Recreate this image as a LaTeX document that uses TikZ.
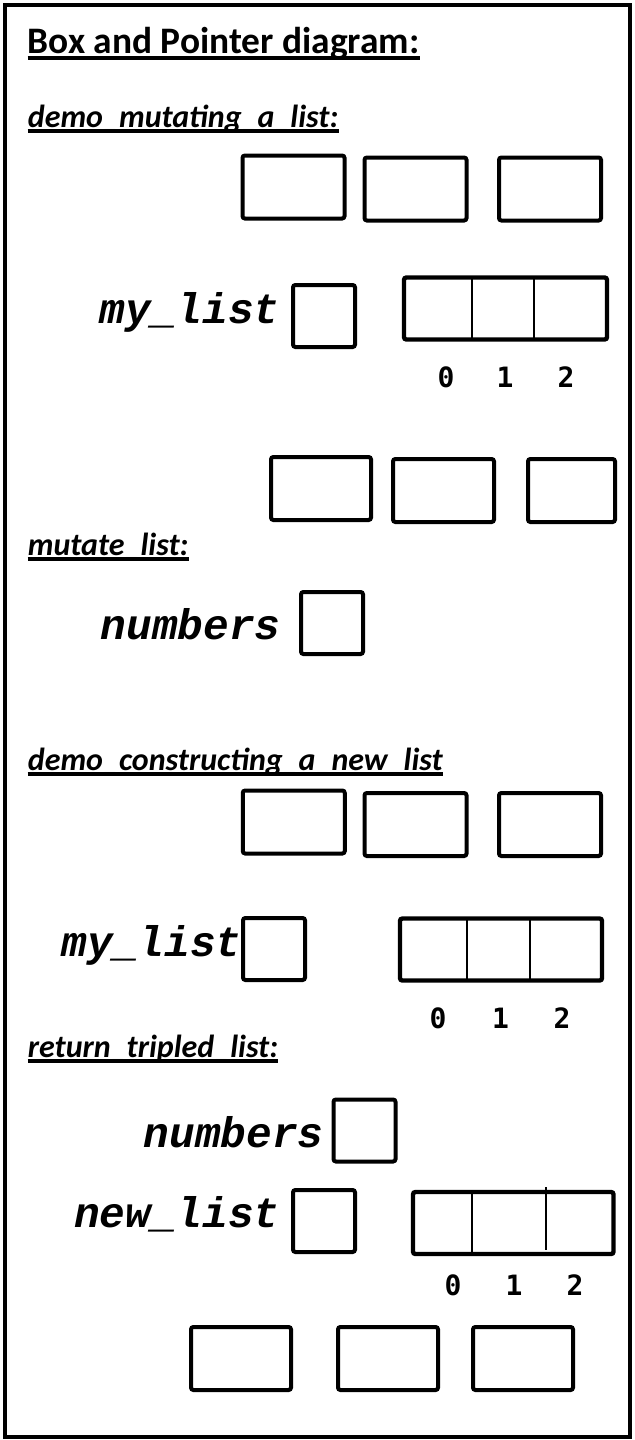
\documentclass[tikz,border=0pt]{standalone}
\usepackage{fontspec}
\setmainfont{Carlito}
\newfontfamily\varfam{Liberation Mono}
\newfontfamily\idxfam{DejaVu Sans Mono}
\usetikzlibrary{calc}
\newcommand{\titlefont}{\bfseries\fontsize{18.7pt}{20pt}\selectfont}
\newcommand{\secfont}{\bfseries\itshape\fontsize{16pt}{18pt}\selectfont}
\newcommand{\varfont}{\varfam\bfseries\itshape\fontsize{21.4pt}{23pt}\selectfont}
\newcommand{\idxfont}{\idxfam\bfseries\fontsize{14pt}{15pt}\selectfont}

\begin{document}
\begin{tikzpicture}[x=0.5pt,y=-0.5pt,
  elembox/.style={draw,line width=2pt,rounded corners=1.2pt,inner sep=0pt,minimum width=51pt,minimum height=31.5pt},
  ptrbox/.style={draw,line width=2pt,rounded corners=1.2pt,inner sep=0pt,minimum size=31pt},
  listbox/.style={draw,line width=2.2pt,rounded corners=1.2pt,inner sep=0pt,minimum width=101pt,minimum height=31pt},
  divider/.style={line width=1pt},
  section/.style={anchor=base west,inner sep=0pt,font=\secfont},
  varname/.style={anchor=base east,inner sep=0pt,font=\varfont},
  idx/.style={anchor=base,inner sep=0pt,font=\idxfont},
  uline/.style={line width=2pt}]
\useasboundingbox (0,0) rectangle (634,1440);
\draw[line width=2.2pt] (5,5) rectangle (630,1437);
% heading
\node[section,font=\titlefont] (title) at (27.5,53) {Box and Pointer diagram:};
\draw[uline,line width=1.8pt] ($(title.base west)+(0,5)$) -- ($(title.base east)+(0,5)$);
% demo_mutating_a_list
\node[section] (secdemomut) at (27.5,127) {demo\_mutating\_a\_list:};
\draw[uline] ($(secdemomut.base west)+(0,4.2)$) -- ($(secdemomut.base east)+(0,4.2)$);
\node[elembox] (mutelemA) at (293.5,187) {};
\node[elembox] (mutelemB) at (415.5,189) {};
\node[elembox] (mutelemC) at (550,189) {};
\node[varname] (mylistone) at (280,323) {my\_list};
\node[ptrbox] (mylistonebox) at (324,316) {};
\node[listbox,minimum width=101.5pt] (arrone) at (505.5,308.5) {};
\draw[divider] (471.5,277) -- (471.5,340);
\draw[divider] (534,277) -- (534,340);
\node[idx] (arroneidxA) at (446,387) {0};
\node[idx] (arroneidxB) at (505,387) {1};
\node[idx] (arroneidxC) at (566,387) {2};
\node[elembox,minimum width=50pt] (newelemA) at (321,488.5) {};
\node[elembox,minimum width=50.5pt] (newelemB) at (443.5,490.5) {};
\node[elembox,minimum width=43.5pt] (newelemC) at (571.5,490.5) {};
% mutate_list
\node[section] (secmut) at (27.5,555) {mutate\_list:};
\draw[uline] ($(secmut.base west)+(0,4.2)$) -- ($(secmut.base east)+(0,4.2)$);
\node[varname] (numone) at (281,639) {numbers};
\node[ptrbox] (numonebox) at (332,623) {};
% demo_constructing_a_new_list
\node[section] (seccons) at (27.5,770) {demo\_constructing\_a\_new\_list};
\draw[uline] ($(seccons.base west)+(0,4.2)$) -- ($(seccons.base east)+(0,4.2)$);
\node[elembox] (conselemA) at (293.75,822) {};
\node[elembox] (conselemB) at (415.5,824.5) {};
\node[elembox] (conselemC) at (550,824.5) {};
\node[varname] (mylisttwo) at (242,956) {my\_list};
\node[ptrbox] (mylisttwobox) at (274,949) {};
\node[listbox] (arrtwo) at (501,949.5) {};
\draw[divider] (467,919) -- (467,980);
\draw[divider] (530,919) -- (530,980);
\node[idx] (arrtwoidxA) at (438,1028) {0};
\node[idx] (arrtwoidxB) at (500.5,1028) {1};
\node[idx] (arrtwoidxC) at (562,1028) {2};
% return_tripled_list
\node[section] (secret) at (27.5,1057) {return\_tripled\_list:};
\draw[uline] ($(secret.base west)+(0,4.2)$) -- ($(secret.base east)+(0,4.2)$);
\node[varname] (numtwo) at (324,1147) {numbers};
\node[ptrbox] (numtwobox) at (364.5,1130.5) {};
\node[varname] (newlist) at (280,1227) {new\_list};
\node[ptrbox] (newlistbox) at (324,1221) {};
\node[listbox,minimum width=100.25pt] (arrthree) at (513.25,1223) {};
\draw[divider] (472,1192) -- (472,1254);
\draw[divider] (546,1187) -- (546,1250);
\node[idx] (arrthreeidxA) at (453,1295) {0};
\node[idx] (arrthreeidxB) at (514,1295) {1};
\node[idx] (arrthreeidxC) at (575,1295) {2};
\node[elembox,minimum width=50pt] (tripelemA) at (241,1358.5) {};
\node[elembox,minimum width=50pt] (tripelemB) at (388,1358.5) {};
\node[elembox,minimum width=50pt] (tripelemC) at (523,1358.5) {};
\end{tikzpicture}
\end{document}
